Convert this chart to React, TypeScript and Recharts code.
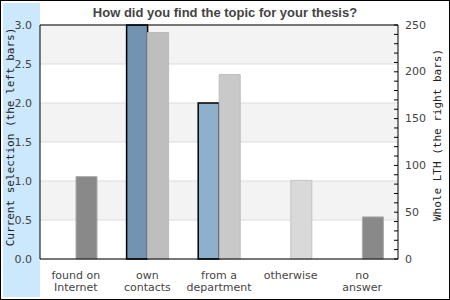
import React from 'react';
import {Bar, CartesianGrid, Cell, ComposedChart, ReferenceLine, XAxis, YAxis} from 'recharts';

// categories, two lines each for the x labels
const categories = ['found on\nInternet', 'own\ncontacts', 'from a\ndepartment', 'otherwise', 'no\nanswer'];
// left axis: current selection
const currentSelection = [0, 3, 2, 0, 0];
// right axis: whole LTH
const wholeLth = [88, 242, 197, 84, 45];

const leftTicks = [0, 0.5, 1, 1.5, 2, 2.5, 3];
const rightTicks = [0, 10, 20, 30, 40, 50, 60, 70, 80, 90, 100, 110, 120, 130, 140, 150, 160, 170, 180, 190, 200, 210, 220, 230, 240, 250];

const leftColors = ['#8eb0cc', '#7294b0', '#8eb0cc', '#8eb0cc', '#8eb0cc'];
const rightColors = ['#898989', '#bebebe', '#c9c9c9', '#d9d9d9', '#898989'];
const rightStrokes = ['#aaaaaa', '#bbbbbb', '#bbbbbb', '#c4c4c4', '#aaaaaa'];

const data = categories.map((c, i) => ({
    name: c,
    current: currentSelection[i],
    whole: wholeLth[i],
}));

const tickFont = 'DejaVu Sans';
const labelStyle = {fontFamily: 'DejaVu Sans Mono', fontSize: 11, fill: '#222'};

const XTick = (props) => {
    const {x, y, payload} = props;
    const lines = String(payload.value).split('\n');
    return (
        <text x={x} y={y} textAnchor="middle" fontFamily={tickFont} fontSize={11} fill="#444">
            {lines.map((l, i) => (
                <tspan key={i} x={x} dy={i === 0 ? 12 : 12}>{l}</tspan>
            ))}
        </text>
    );
};

const RightTick = (props) => {
    const {x, y, payload} = props;
    const v = payload.value;
    return (
        <g>
            <line x1={x - 4} x2={x} y1={y} y2={y} stroke="#000"/>
            {v % 50 === 0 &&
                <text x={x + 7} y={y} dominantBaseline="central" fontFamily={tickFont} fontSize={11} fill="#444">
                    {v}
                </text>}
        </g>
    );
};

export default function App() {
    return (
        <div style={{position: 'relative', width: 450, height: 300, background: '#fff'}}>
            <style>{`body{margin:0}`}</style>
            <div style={{position: 'absolute', left: 0, top: 0, width: 448, height: 298, border: '1px solid #000'}}/>
            <div style={{position: 'absolute', left: 3, top: 3, width: 37, height: 294, background: '#cbe8fc'}}/>
            <div style={{position: 'absolute', left: 0, top: 0}}>
                <ComposedChart width={450} height={300} data={data}
                               margin={{top: 25, right: 0, bottom: 0, left: 0}}
                               barSize={21} barGap={0}>
                    <text x={225} y={17} textAnchor="middle" fontFamily="Liberation Sans" fontWeight="bold"
                          fontSize={13} fill="#444">
                        How did you find the topic for your thesis?
                    </text>
                    <text x={10} y={137} transform="rotate(-90 10 137)" textAnchor="middle"
                          dominantBaseline="central" style={labelStyle}>
                        Current selection (the left bars)
                    </text>
                    <text x={437} y={135} transform="rotate(-90 437 135)" textAnchor="middle"
                          dominantBaseline="central" style={labelStyle}>
                        Whole LTH (the right bars)
                    </text>
                    <CartesianGrid yAxisId="left" vertical={false} stroke="#dddddd"
                                   horizontalFill={['#f3f3f3', '#ffffff']} fillOpacity={1}/>
                    <XAxis dataKey="name" height={41} interval={0} axisLine={{stroke: '#000'}}
                           tickLine={false} tick={XTick}/>
                    <YAxis yAxisId="left" width={40} domain={[0, 3]} ticks={leftTicks}
                           axisLine={{stroke: '#000'}} tickLine={false} tickSize={6} tickMargin={2}
                           tickFormatter={(v) => v.toFixed(1)}
                           tick={{fontFamily: tickFont, fontSize: 11, fill: '#444'}}/>
                    <YAxis yAxisId="right" orientation="right" width={52} domain={[0, 250]} ticks={rightTicks}
                           interval={0} axisLine={{stroke: '#000'}} tickLine={false} tickSize={0} tickMargin={0}
                           tick={RightTick}/>
                    <ReferenceLine yAxisId="left" y={3} stroke="#000"/>
                    <Bar yAxisId="left" dataKey="current" stroke="#000" strokeWidth={1.5} isAnimationActive={false}>
                        {data.map((d, i) => <Cell key={i} fill={leftColors[i]}/>)}
                    </Bar>
                    <Bar yAxisId="right" dataKey="whole" isAnimationActive={false}>
                        {data.map((d, i) => <Cell key={i} fill={rightColors[i]} stroke={rightStrokes[i]}/>)}
                    </Bar>
                </ComposedChart>
            </div>
        </div>
    );
}
